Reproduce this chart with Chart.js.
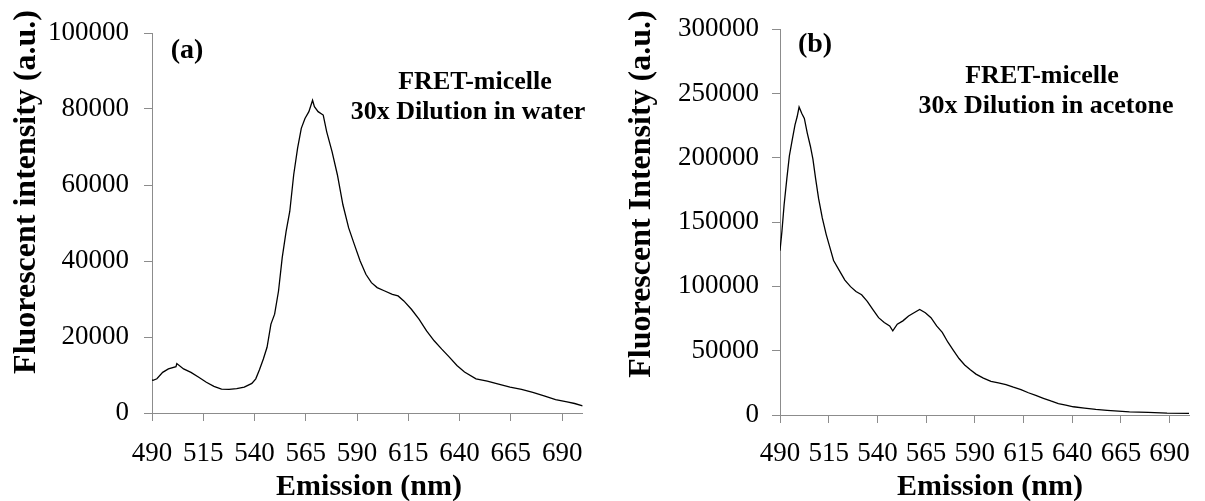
<!DOCTYPE html>
<html>
<head>
<meta charset="utf-8">
<script src="https://cdn.jsdelivr.net/npm/chart.js@4.4.1/dist/chart.umd.min.js"></script>
<style>
  body { margin: 0; background: #fff; }
  #wrap { position: relative; width: 1205px; height: 501px; }
  canvas { position: absolute; top: 0; }
  #chartA { left: 0; }
  #chartB { left: 600px; }
</style>
</head>
<body>
<div id="wrap">
  <canvas id="chartA" width="600" height="501"></canvas>
  <canvas id="chartB" width="605" height="501"></canvas>
</div>
<script>
'use strict';

const xTicks = [490, 515, 540, 565, 590, 615, 640, 665, 690];
const yTicksA = [0, 20000, 40000, 60000, 80000, 100000];
const yTicksB = [0, 50000, 100000, 150000, 200000, 250000, 300000];

// (a) water
const emissionA = [490, 490.5, 492.4, 495.2, 498, 501.7, 502.1, 505.4, 509, 512.8, 516.5, 520.2, 523.9, 527.6,
  531.3, 535, 538.7, 540.6, 542.4, 544.3, 546.1, 548, 549.8, 551.7, 553.5, 555.4, 557.2, 559.1, 561, 562.8,
  564.6, 566.5, 568.3, 569.2, 571, 573.5, 575.2, 577.8, 580.4, 583.1, 585.9, 588.7, 591.5, 594.3, 597, 599.8,
  603.5, 607.2, 610, 612.8, 616.5, 620.2, 623.9, 627.6, 631.3, 635, 638.7, 642.4, 648, 653.5, 659, 664.6,
  670.2, 675.7, 681.2, 686.8, 692.4, 696.1, 700];
const intensityA = [8700, 8600, 9000, 10700, 11600, 12200, 13000, 11600, 10700, 9400, 8100, 7000, 6300, 6200,
  6400, 6800, 7800, 9000, 11400, 14200, 17300, 23400, 26000, 32100, 40900, 47800, 53100, 62700, 69700, 74900,
  77500, 79300, 82300, 80600, 79300, 78400, 74000, 68800, 62700, 54800, 48700, 44300, 40000, 36500, 34300, 33000,
  32100, 31200, 30800, 29500, 27300, 24700, 21600, 19000, 16800, 14700, 12500, 10800, 9000, 8400, 7600, 6800,
  6200, 5400, 4500, 3500, 2900, 2500, 1900];

// (b) acetone
const emissionB = [490, 491, 492.1, 493.5, 494.8, 496.3, 497.7, 498.8, 499.8, 501.2, 502.5, 504, 505.6, 506.9,
  508.3, 509.8, 511.7, 513.7, 515.6, 517.5, 520.4, 523.3, 526.2, 529, 531.9, 534.8, 537.7, 540.6, 543.5, 546.3,
  547.9, 550.2, 553.1, 556, 558.8, 561.7, 564.6, 567.5, 570.4, 573.3, 576.2, 579, 581.9, 584.8, 587.7, 590.6,
  594.4, 598.3, 602.1, 606, 609.8, 613.7, 617.5, 621.3, 625.2, 629, 632.9, 636.7, 640.6, 646.3, 652.1, 657.9,
  663.7, 669.4, 679, 688.7, 700];
const intensityB = [127800, 143000, 163300, 183600, 201400, 214100, 225600, 231900, 239500, 234400, 230600, 219200,
  209000, 198900, 183600, 168400, 153200, 140500, 130300, 120100, 112500, 104900, 99800, 96000, 93500, 88400,
  82000, 75700, 71900, 69300, 65500, 70600, 73200, 77000, 79500, 82000, 79500, 75700, 69300, 64300, 56600, 50300,
  43900, 38900, 35100, 31800, 28700, 26200, 24900, 23600, 21600, 19800, 17300, 15200, 13000, 10900, 8900, 7600,
  6400, 5300, 4300, 3600, 3000, 2500, 2000, 1500, 1300];

const titleA = 'Fluorescent intensity (a.u.)';
const titleB = 'Fluorescent Intensity (a.u.)';
const xTitle = 'Emission (nm)';
const notesA = ['(a)', 'FRET-micelle', '30x Dilution in water'];
const notesB = ['(b)', 'FRET-micelle', '30x Dilution in acetone'];

const serif = "'Liberation Serif', 'Times New Roman', serif";
const axisGrey = '#8c8c8c';

function toPoints(xs, ys) {
  return xs.map((x, i) => ({ x: x, y: ys[i] }));
}

// axis titles and panel notes
function textPlugin(texts) {
  return {
    id: 'panelTexts',
    afterDraw(chart) {
      let ctx = chart.ctx;
      ctx.save();
      ctx.fillStyle = '#000';
      ctx.textAlign = 'center';
      ctx.textBaseline = 'middle';
      texts.forEach(t => {
        ctx.font = 'bold ' + t.size + 'px ' + serif;
        ctx.save();
        ctx.translate(t.x, t.y);
        if (t.rotate) ctx.rotate(-Math.PI / 2);
        ctx.fillText(t.text, 0, 0);
        ctx.restore();
      });
      ctx.restore();
    }
  };
}

function makeChart(id, xs, ys, yTicks, box, texts) {
  return new Chart(document.getElementById(id), {
    type: 'line',
    data: {
      datasets: [{
        data: toPoints(xs, ys),
        borderColor: '#000',
        borderWidth: 1.3,
        pointRadius: 0,
        tension: 0
      }]
    },
    options: {
      responsive: false,
      animation: false,
      devicePixelRatio: 1,
      layout: { padding: { top: box.top, right: box.right, left: 0, bottom: 0 } },
      plugins: { legend: { display: false }, tooltip: { enabled: false } },
      scales: {
        x: {
          type: 'linear',
          min: 490,
          max: 700,
          afterBuildTicks: s => { s.ticks = xTicks.map(v => ({ value: v })); },
          afterFit: s => { s.height = box.xHeight; },
          grid: { drawOnChartArea: false, tickLength: 8, color: axisGrey },
          border: { color: axisGrey },
          ticks: { color: '#000', font: { family: serif, size: 27 }, padding: box.xPad, maxRotation: 0, autoSkip: false }
        },
        y: {
          min: 0,
          max: yTicks[yTicks.length - 1],
          afterBuildTicks: s => { s.ticks = yTicks.map(v => ({ value: v })); },
          afterFit: s => { s.width = box.yWidth; },
          grid: { drawOnChartArea: false, tickLength: 8, color: axisGrey },
          border: { color: axisGrey },
          ticks: { color: '#000', font: { family: serif, size: 27 }, padding: box.yPad, callback: v => String(v) }
        }
      }
    },
    plugins: [textPlugin(texts)]
  });
}

makeChart('chartA', emissionA, intensityA, yTicksA,
  { top: 33, right: 13, xHeight: 88, yWidth: 152, xPad: 17, yPad: 15 },
  [
    { text: titleA, x: 27, y: 192, size: 32, rotate: true },
    { text: xTitle, x: 369, y: 487, size: 30 },
    { text: notesA[0], x: 187, y: 51, size: 28 },
    { text: notesA[1], x: 475, y: 82, size: 26 },
    { text: notesA[2], x: 468, y: 112, size: 26 }
  ]);

makeChart('chartB', emissionB, intensityB, yTicksB,
  { top: 21, right: 3, xHeight: 86, yWidth: 180, xPad: 15, yPad: 13 },
  [
    { text: titleB, x: 42, y: 194, size: 32, rotate: true },
    { text: xTitle, x: 390, y: 487, size: 30 },
    { text: notesB[0], x: 215, y: 45, size: 28 },
    { text: notesB[1], x: 442, y: 76, size: 26 },
    { text: notesB[2], x: 446, y: 106, size: 26 }
  ]);
</script>
</body>
</html>
